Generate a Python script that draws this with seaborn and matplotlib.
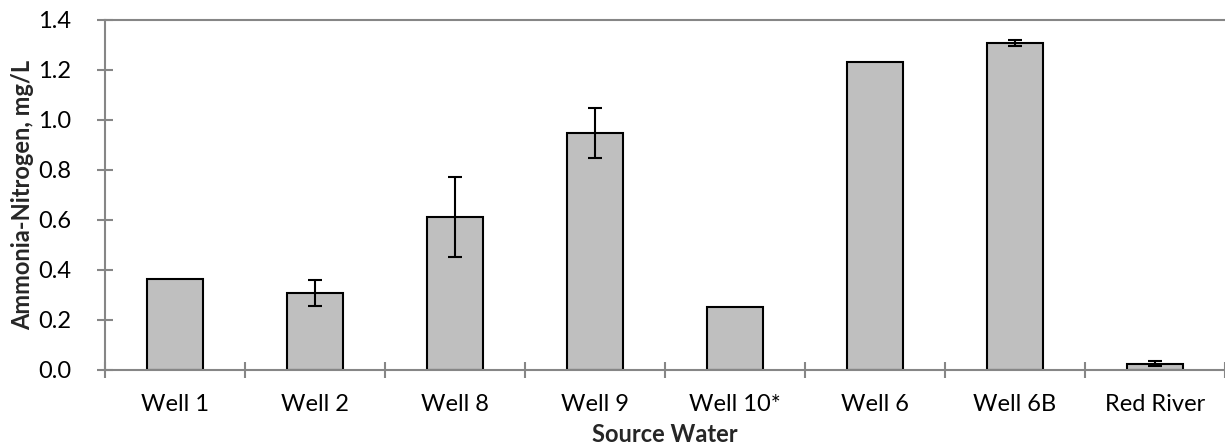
import matplotlib
matplotlib.use("Agg")
import matplotlib.pyplot as plt
import seaborn as sns
import numpy as np
import pandas as pd

# Ammonia-nitrogen by source water (mg/L), with standard deviation where measured
sources = ["Well 1", "Well 2", "Well 8", "Well 9", "Well 10*", "Well 6", "Well 6B", "Red River"]
ammonia = [0.365, 0.307, 0.611, 0.948, 0.252, 1.231, 1.309, 0.025]
spread = [0.0, 0.052, 0.16, 0.10, 0.0, 0.0, 0.013, 0.01]
y_ticks = [0.0, 0.2, 0.4, 0.6, 0.8, 1.0, 1.2, 1.4]

sns.set_theme(style="white")
plt.rcParams["font.family"] = ["Lato", "DejaVu Sans"]

axis_grey = "#868686"
fs = 17

fig = plt.figure(figsize=(12.25, 4.45), dpi=100)
ax = fig.add_axes([105 / 1225, 75 / 445, 1120 / 1225, 350 / 445])

df = pd.DataFrame({"source": sources, "ammonia": ammonia})
sns.barplot(data=df, x="source", y="ammonia", color="#BFBFBF", saturation=1,
            edgecolor="black", linewidth=1.5, width=0.4, errorbar=None, ax=ax)

# error bars only where a spread was measured
for i, (v, s) in enumerate(zip(ammonia, spread)):
    if s > 0:
        ax.errorbar(i, v, yerr=s, fmt="none", ecolor="black", elinewidth=1.5,
                    capsize=5, capthick=1.5, zorder=5)

ax.set_xlim(-0.5, len(sources) - 0.5)
ax.set_ylim(0, 1.4)
ax.set_yticks(y_ticks)
ax.set_yticklabels([f"{t:.1f}" for t in y_ticks])

# category separators on the x axis
ax.set_xticks(np.arange(len(sources)))
ax.set_xticks(np.arange(len(sources) + 1) - 0.5, minor=True)
ax.tick_params(axis="x", which="major", length=0, pad=17, labelsize=fs, colors="black")
ax.tick_params(axis="x", which="minor", direction="inout", length=11, width=1.5, color=axis_grey, bottom=True)
ax.tick_params(axis="y", which="major", direction="inout", length=11, width=1.5, color=axis_grey,
               left=True, labelsize=fs, labelcolor="black", pad=19)

for side in ["left", "bottom", "top"]:
    ax.spines[side].set_visible(True)
    ax.spines[side].set_color(axis_grey)
    ax.spines[side].set_linewidth(1.5)
ax.spines["right"].set_visible(False)

ax.set_xlabel("Source Water", fontsize=fs, fontweight="bold", labelpad=6)
ax.set_ylabel("Ammonia-Nitrogen, mg/L", fontsize=fs, fontweight="bold", labelpad=3)

fig.savefig("out.png", dpi=100)
